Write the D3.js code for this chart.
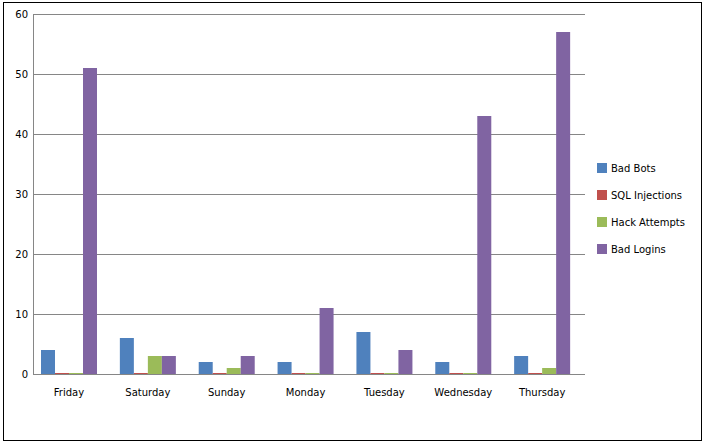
<!DOCTYPE html><html><head><script src="https://d3js.org/d3.v7.min.js"></script>
<style>body{margin:0;background:#fff}text{font-family:"DejaVu Sans",Verdana,sans-serif;font-size:10px;fill:#000}</style></head><body><svg width="706" height="445"></svg>
<script>
const categories=["Friday","Saturday","Sunday","Monday","Tuesday","Wednesday","Thursday"];
const seriesNames=["Bad Bots","SQL Injections","Hack Attempts","Bad Logins"];
const colors=["#4f81bd","#c0504d","#9bbb59","#8064a2"];
const badBots=[4,6,2,2,7,2,3];
const sqlInjections=[0,0,0,0,0,0,0];
const hackAttempts=[0,3,1,0,0,0,1];
const badLogins=[51,3,3,11,4,43,57];
const yTicks=[0,10,20,30,40,50,60];
const series=[badBots,sqlInjections,hackAttempts,badLogins];
const svg=d3.select("svg");
svg.append("rect").attr("x",3.5).attr("y",2.5).attr("width",698).attr("height",438).attr("fill","none").attr("stroke","#000");
const L=33,R=585,T=14,B=374;
const x=d3.scaleBand().domain(categories).range([L,R]);
const y=d3.scaleLinear().domain([0,60]).range([B,T]);
yTicks.forEach(t=>{
 svg.append("line").attr("x1",L).attr("x2",R).attr("y1",y(t)+.5).attr("y2",y(t)+.5).attr("stroke","#868686");
 svg.append("text").attr("x",L-5).attr("y",y(t)+3.5).attr("text-anchor","end").text(t);
});
svg.append("line").attr("x1",L+.5).attr("x2",L+.5).attr("y1",T).attr("y2",B).attr("stroke","#868686");
const bw=14;
categories.forEach((c,i)=>{
 const x0=x(c)+8;
 series.forEach((s,j)=>{
  const h=Math.max(1,B-y(s[i]));
  svg.append("rect").attr("x",x0+j*bw).attr("y",B-h).attr("width",bw).attr("height",h).attr("fill",colors[j]);
 });
 svg.append("text").attr("x",x0+2*bw).attr("y",396).attr("text-anchor","middle").text(c);
});
seriesNames.forEach((n,j)=>{
 const yy=168+j*27;
 svg.append("rect").attr("x",597).attr("y",yy-5).attr("width",10).attr("height",10).attr("fill",colors[j]);
 svg.append("text").attr("x",611).attr("y",yy+4).text(n);
});
</script></body></html>
